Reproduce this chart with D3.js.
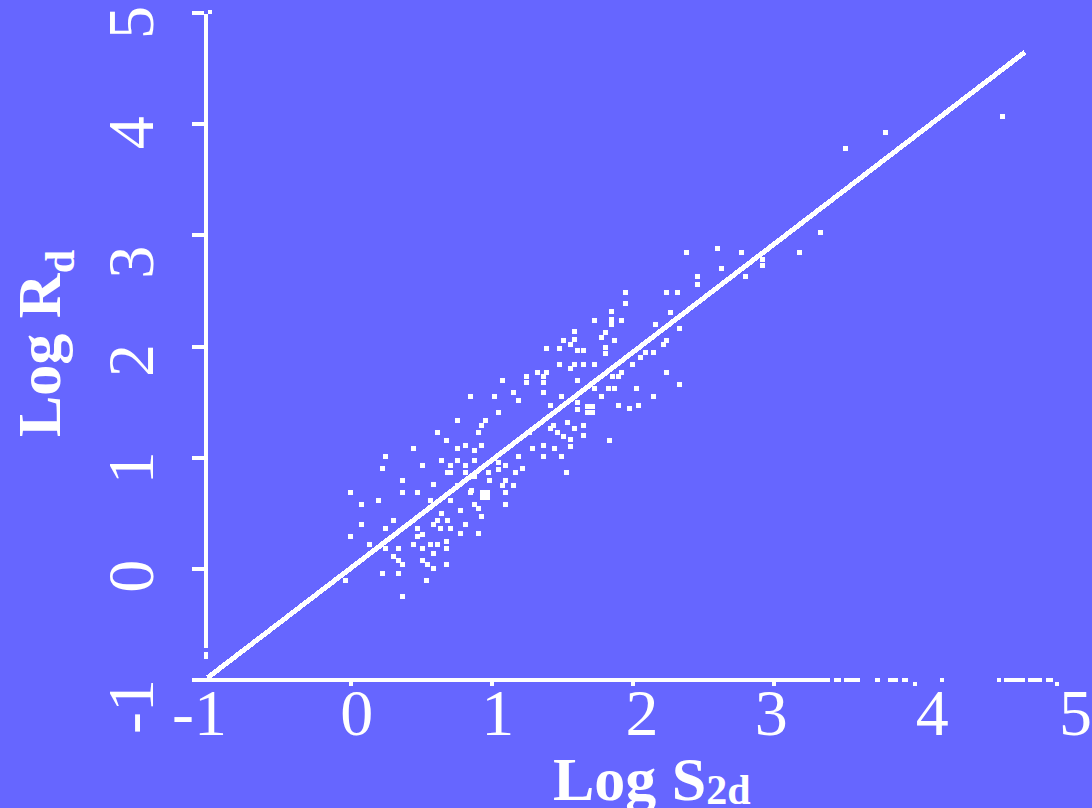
<!DOCTYPE html>
<html><head><meta charset="utf-8">
<script src="https://cdn.jsdelivr.net/npm/d3@7"></script>
<style>html,body{margin:0;padding:0;background:#6666ff;}svg{display:block}</style>
</head><body><svg id="chart" width="1092" height="808"></svg>
<script>
// ---------- data ----------
const xTicks = [-1, 0, 1, 2, 3, 4, 5];
const yTicks = [-1, 0, 1, 2, 3, 4, 5];
const xTickLabels = ["-1", "0", "1", "2", "3", "4", "5"];
const yTickLabels = ["-1", "0", "1", "2", "3", "4", "5"];
const xTitle = "Log S";
const xTitleSub = "2d";
const yTitle = "Log R";
const yTitleSub = "d";

// identity-like fitted line (Log Rd vs Log S2d)
const fitX = [-1.01, 4.78];
const fitY = [-0.98, 4.64];

// scatter cells, [Log S2d, Log Rd]
const pointsLow = [
  [0.62,1.22],[0.68,1.15],[0.45,1.08],[0.25,1.01],[0.65,0.97],[0.51,0.93],[0.23,0.90],[0.69,0.86],[0.37,0.79],[0.59,0.76],
  [0.00,0.68],[0.37,0.68],[0.48,0.68],[0.20,0.61],[0.57,0.61],[0.71,0.61],[0.08,0.58],[0.78,0.52],[0.65,0.50],[0.88,0.58],
  [1.10,0.58],[0.91,0.54],[0.93,0.47],[0.31,0.43],[0.62,0.43],[0.69,0.43],[0.08,0.40],[0.59,0.40],[0.82,0.40],[0.25,0.36],
  [0.48,0.36],[0.64,0.36],[0.71,0.36],[0.78,0.32],[0.51,0.31],[0.91,0.32],[0.00,0.29],[0.48,0.29],[0.45,0.22],[0.57,0.22],
  [0.62,0.22],[0.68,0.24],[0.68,0.18],[0.34,0.18],[0.51,0.18],[0.59,0.14],[0.31,0.11],[0.34,0.07],[0.37,0.04],[0.51,0.07],
  [0.55,0.04],[0.59,0.00],[0.68,0.04],[0.23,-0.04],[0.34,-0.04],[-0.03,-0.11],[0.54,-0.11],[0.37,-0.25],[0.14,0.22],[0.25,0.18]
];
const pointsMid = [
  [1.95,2.38],[1.85,2.31],[1.85,2.24],[1.73,2.23],[1.92,2.23],[1.85,2.19],[2.16,2.19],[2.27,2.30],[2.33,2.16],[1.81,2.12],
  [1.78,2.08],[1.59,2.13],[1.59,2.06],[1.51,2.05],[1.87,2.05],[1.56,2.01],[2.24,2.05],[2.22,2.01],[1.39,1.98],[1.48,1.98],
  [1.61,1.96],[1.65,1.96],[1.81,1.99],[1.81,1.93],[2.09,1.94],[2.15,1.94],[2.06,1.90],[2.00,1.83],[1.48,1.83],[1.59,1.83],
  [1.65,1.83],[1.73,1.83],[1.56,1.80],[1.33,1.76],[1.39,1.76],[1.37,1.73],[1.37,1.67],[1.25,1.73],[1.25,1.67],[1.92,1.76],
  [2.24,1.76],[1.86,1.73],[1.90,1.73],[1.08,1.69],[1.61,1.69],[2.33,1.65],[1.16,1.58],[1.37,1.58],[1.73,1.62],[1.83,1.62],
  [1.87,1.62],[2.03,1.62],[0.85,1.55],[1.02,1.55],[1.50,1.55],[1.78,1.55],[2.15,1.55],[1.19,1.51],[1.42,1.47],[1.61,1.49],
  [1.61,1.43],[1.68,1.46],[1.72,1.46],[1.68,1.40],[1.72,1.40],[1.90,1.47],[1.98,1.44],[2.04,1.47],[1.05,1.40],[0.76,1.33],
  [0.96,1.33],[1.54,1.31],[1.59,1.26],[1.65,1.29],[0.93,1.29],[0.91,1.22],[1.65,1.20],[1.51,1.19],[1.56,1.16],[1.56,1.10],
  [1.84,1.15],[0.76,1.08],[0.82,1.11],[0.88,1.06],[0.93,1.11],[1.37,1.11],[1.29,1.08],[1.19,1.01],[1.45,1.08],[1.37,1.01],
  [1.50,1.01],[0.76,0.97],[0.82,0.93],[0.88,0.97],[1.05,0.95],[1.05,0.89],[1.10,0.93],[1.17,0.86],[1.22,0.90],[1.53,0.86],
  [0.99,0.79],[1.08,0.75],[1.10,0.79],[1.16,0.75],[1.10,0.68],[0.86,0.70],[0.94,0.68],[0.97,0.68],[0.94,0.64],[0.97,0.64],
  [1.44,1.29],[1.47,1.22],[1.42,1.26],[1.27,1.22],[0.71,0.93],[0.71,0.86],[0.82,0.86],[0.88,0.83],[0.98,0.86],[0.76,0.75],
  [0.85,0.68]
];
const pointsHigh = [
  [3.33,3.02],[3.18,2.84],[2.38,2.84],[2.60,2.88],[2.77,2.84],[2.92,2.78],[2.92,2.72],[2.63,2.70],[2.80,2.62],[2.46,2.62],
  [2.46,2.55],[1.95,2.48],[2.24,2.48],[2.32,2.48],[4.62,4.06],[3.79,3.92],[3.51,3.77]
];

// broken axis line pieces (data units)
const xAxisPieces = [[-1.12,3.40],[3.43,3.48],[3.50,3.61],[3.72,3.75],[3.81,3.88],[3.91,3.95],[4.18,4.21],[4.58,4.61],[4.63,4.78],[4.80,4.90],[4.93,4.98]];
const yAxisPieces = [[-0.71,4.98],[-0.81,-0.75]];

// ---------- layout ----------
const W = 1092, H = 808;
const BG = "#6666ff", FG = "#ffffff";
const serif = "'Liberation Serif','Times New Roman',Times,serif";
const xNudge = [-10, 6, 6, 9, -3, 17, 19];
const yNudge = [26, 7, 10, 14, 27, 9, 10];
const cell = 5;

const svg = d3.select("#chart");
svg.append("rect").attr("width", W).attr("height", H).attr("fill", BG);

const x = d3.scaleLinear().domain([-1, 5]).range([209, 1056]);
const y = d3.scaleLinear().domain([-1, 5]).range([680, 12]);

const axisY0 = 680;   // pixel row of x-axis centre
const axisX0 = 206;   // pixel column of y-axis centre

// x axis line pieces
svg.append("g").selectAll("rect").data(xAxisPieces).join("rect")
  .attr("x", d => x(d[0])).attr("width", d => x(d[1]) - x(d[0]))
  .attr("y", axisY0 - 2).attr("height", 4).attr("fill", FG)
  .attr("shape-rendering", "crispEdges");

// y axis line pieces
svg.append("g").selectAll("rect").data(yAxisPieces).join("rect")
  .attr("x", axisX0 - 2).attr("width", 4)
  .attr("y", d => y(d[1])).attr("height", d => y(d[0]) - y(d[1])).attr("fill", FG)
  .attr("shape-rendering", "crispEdges");
// little cap next to top tick
svg.append("rect").attr("x", axisX0 + 2).attr("y", y(5) - 2).attr("width", 4).attr("height", 4).attr("fill", FG);

// x axis (ticks + labels)
const gx = svg.append("g").attr("transform", `translate(0,${axisY0 + 2})`)
  .call(d3.axisBottom(x).tickValues(xTicks).tickSize(4).tickFormat((d, i) => xTickLabels[i]));
gx.select(".domain").remove();
gx.selectAll(".tick line").attr("stroke", FG).attr("stroke-width", 4)
  .attr("shape-rendering", "crispEdges").attr("opacity", d => d === -1 ? 0 : 1);
gx.selectAll(".tick text")
  .attr("fill", FG).attr("font-family", serif).attr("font-size", 66)
  .attr("y", 735 - axisY0 - 2).attr("dy", 0)
  .attr("x", (d, i) => xNudge[i]);

// y axis (ticks + labels)
const gy = svg.append("g").attr("transform", `translate(${axisX0 - 2},0)`)
  .call(d3.axisLeft(y).tickValues(yTicks).tickSize(12).tickFormat((d, i) => yTickLabels[i]));
gy.select(".domain").remove();
gy.selectAll(".tick line").attr("stroke", FG).attr("stroke-width", 4)
  .attr("shape-rendering", "crispEdges").attr("opacity", d => d === -1 ? 0 : 1);
gy.selectAll(".tick text")
  .attr("fill", FG).attr("font-family", serif).attr("font-size", 66)
  .attr("x", 0).attr("dy", 0).attr("text-anchor", "middle")
  .attr("transform", (d, i) => `translate(${153 - (axisX0 - 2)},${yNudge[i]}) rotate(-90)`);

// fitted line
svg.append("path")
  .datum(fitX.map((v, i) => [v, fitY[i]]))
  .attr("d", d3.line().x(d => x(d[0])).y(d => y(d[1])))
  .attr("stroke", FG).attr("stroke-width", 5).attr("fill", "none")
  .attr("shape-rendering", "crispEdges");

// scatter cells
const allPts = pointsLow.concat(pointsMid, pointsHigh);
svg.append("g").selectAll("rect").data(allPts).join("rect")
  .attr("x", d => Math.round(x(d[0]) - cell / 2)).attr("y", d => Math.round(y(d[1]) - cell / 2))
  .attr("width", cell).attr("height", cell).attr("fill", FG)
  .attr("shape-rendering", "crispEdges");

// axis titles
const tx = svg.append("text").attr("x", 553).attr("y", 800)
  .attr("fill", FG).attr("font-family", serif).attr("font-weight", "bold").attr("font-size", 62);
tx.append("tspan").text(xTitle);
tx.append("tspan").attr("font-size", 42).attr("dy", 4).text(xTitleSub);

const ty = svg.append("text").attr("transform", "translate(60,437) rotate(-90)")
  .attr("fill", FG).attr("font-family", serif).attr("font-weight", "bold").attr("font-size", 62);
ty.append("tspan").text(yTitle);
ty.append("tspan").attr("font-size", 42).attr("dy", 14).text(yTitleSub);
</script>
</body></html>
